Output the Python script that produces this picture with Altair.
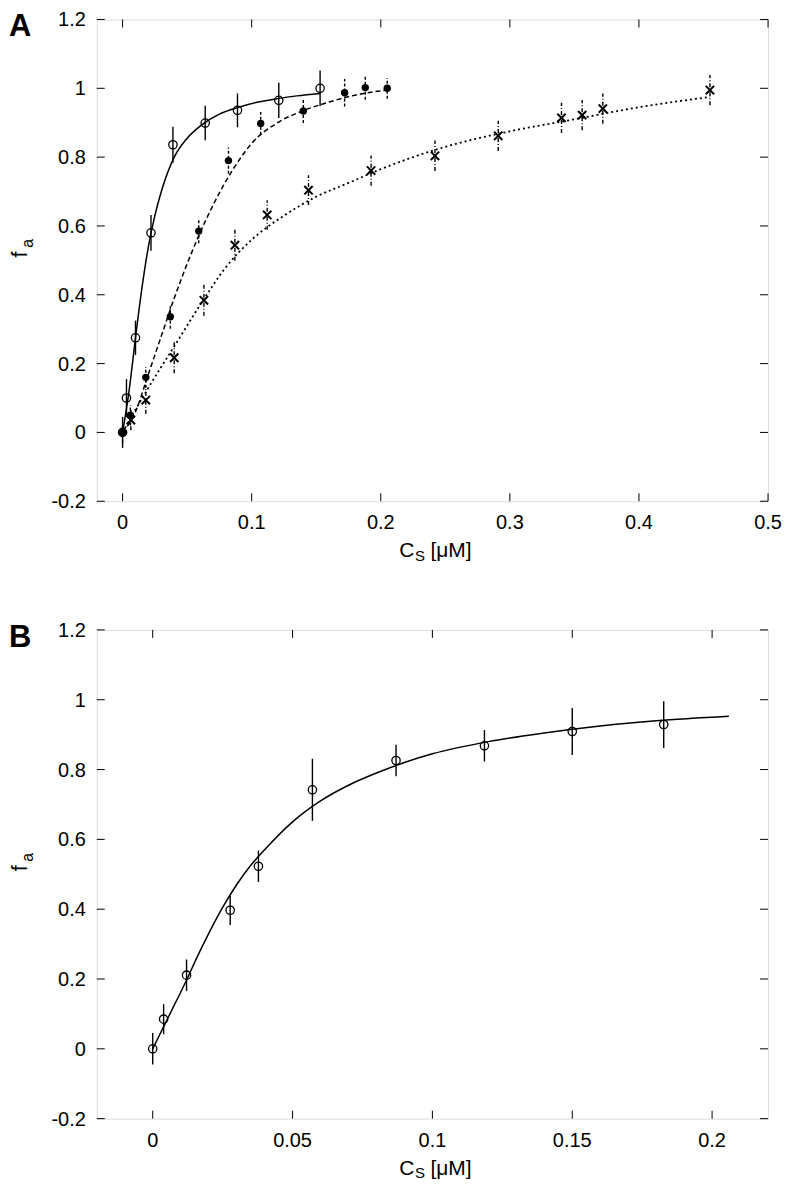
import altair as alt
import pandas as pd

FONT = "Liberation Sans"

# ---------------- Panel A data ----------------
a_open_x = [0.0, 0.003, 0.010, 0.022, 0.039, 0.064, 0.089, 0.121, 0.153]
a_open_y = [0.0, 0.100, 0.275, 0.580, 0.836, 0.899, 0.936, 0.965, 1.000]
a_open_err = [0.045, 0.055, 0.050, 0.052, 0.052, 0.050, 0.049, 0.051, 0.052]

a_fill_x = [0.0, 0.006, 0.018, 0.037, 0.059, 0.082, 0.107, 0.140, 0.172, 0.188, 0.205]
a_fill_y = [0.0, 0.050, 0.160, 0.336, 0.585, 0.790, 0.898, 0.934, 0.987, 1.002, 1.000]
a_fill_err = [0.030, 0.030, 0.030, 0.035, 0.035, 0.038, 0.033, 0.035, 0.040, 0.035, 0.030]

a_cross_x = [0.0064, 0.018, 0.040, 0.063, 0.087, 0.112, 0.144, 0.1925, 0.242, 0.291, 0.340, 0.356, 0.372, 0.455]
a_cross_y = [0.036, 0.094, 0.217, 0.384, 0.544, 0.632, 0.704, 0.761, 0.804, 0.862, 0.914, 0.922, 0.941, 0.995]
a_cross_err = [0.030, 0.040, 0.045, 0.045, 0.045, 0.043, 0.043, 0.044, 0.044, 0.044, 0.044, 0.044, 0.044, 0.044]

# fitted curves
a_solid_x = [0.0, 0.005, 0.010, 0.015, 0.020, 0.025, 0.030, 0.040, 0.050, 0.060, 0.075, 0.090, 0.105, 0.120, 0.135, 0.153]
a_solid_y = [0.0, 0.120, 0.275, 0.420, 0.540, 0.630, 0.700, 0.800, 0.855, 0.890, 0.925, 0.945, 0.960, 0.970, 0.978, 0.985]

a_dash_x = [0.0, 0.010, 0.020, 0.030, 0.040, 0.050, 0.060, 0.070, 0.080, 0.090, 0.100, 0.120, 0.140, 0.160, 0.180, 0.205]
a_dash_y = [0.0, 0.060, 0.170, 0.280, 0.390, 0.490, 0.580, 0.660, 0.730, 0.790, 0.840, 0.900, 0.935, 0.960, 0.980, 0.995]

a_dot_x = [0.0, 0.020, 0.040, 0.060, 0.080, 0.100, 0.125, 0.150, 0.175, 0.200, 0.250, 0.300, 0.350, 0.400, 0.455]
a_dot_y = [0.0, 0.130, 0.250, 0.370, 0.480, 0.560, 0.630, 0.685, 0.725, 0.765, 0.830, 0.875, 0.910, 0.945, 0.975]

a_xticks = [0.0, 0.1, 0.2, 0.3, 0.4, 0.5]
a_xlabels = ["0", "0.1", "0.2", "0.3", "0.4", "0.5"]

# ---------------- Panel B data ----------------
b_x = [0.0, 0.0039, 0.0121, 0.0277, 0.0378, 0.0571, 0.087, 0.1186, 0.150, 0.1827]
b_y = [0.0, 0.085, 0.211, 0.397, 0.523, 0.742, 0.826, 0.868, 0.909, 0.929]
b_err = [0.045, 0.043, 0.045, 0.042, 0.045, 0.089, 0.045, 0.045, 0.067, 0.067]

b_fit_x = [0.0, 0.004, 0.008, 0.012, 0.016, 0.020, 0.025, 0.030, 0.035, 0.040, 0.050, 0.060, 0.070, 0.080, 0.090, 0.100, 0.120, 0.140, 0.160, 0.180, 0.206]
b_fit_y = [0.0, 0.065, 0.130, 0.195, 0.265, 0.330, 0.405, 0.470, 0.525, 0.570, 0.650, 0.710, 0.755, 0.790, 0.820, 0.845, 0.880, 0.905, 0.925, 0.940, 0.953]

b_xticks = [0.0, 0.05, 0.1, 0.15, 0.2]
b_xlabels = ["0", "0.05", "0.1", "0.15", "0.2"]

yticks = [-0.2, 0.0, 0.2, 0.4, 0.6, 0.8, 1.0, 1.2]
ylabels = ["-0.2", "0", "0.2", "0.4", "0.6", "0.8", "1", "1.2"]

panel_letters = ["A", "B"]
x_title_parts = ["C", "S", "[μM]"]
y_title_parts = ["f", "a"]

CROSS = "M-1,-1L1,1M-1,1L1,-1"
TICK_FS = 20


def errdf(x, y, e):
    return pd.DataFrame({"x": x, "y": y,
                         "lo": [v - d for v, d in zip(y, e)],
                         "hi": [v + d for v, d in zip(y, e)]})


def txt(s):
    return alt.Chart(pd.DataFrame({"t": [s]}))


def panel(W, H, xdom, xticks, xlabels, letter, series, curves):
    xs = alt.Scale(domain=xdom, nice=False, zero=False)
    ys = alt.Scale(domain=[-0.2, 1.2], nice=False, zero=False)
    X = lambda f: alt.X(f, scale=xs, axis=None)
    Y = lambda f: alt.Y(f, scale=ys, axis=None)
    layers = []
    for (cx, cy, dash, sw) in curves:
        df = pd.DataFrame({"x": cx, "y": cy})
        mk = dict(color="black", strokeWidth=sw, interpolate="monotone")
        if dash:
            mk["strokeDash"] = dash
        layers.append(alt.Chart(df).mark_line(**mk).encode(
            x=X("x:Q"), y=Y("y:Q"), order="x:Q"))
    for (sx, sy, se, kind, edash) in series:
        df = errdf(sx, sy, se)
        rk = dict(color="black", strokeWidth=1.4)
        if edash:
            rk["strokeDash"] = edash
        layers.append(alt.Chart(df).mark_rule(**rk).encode(
            x=X("x:Q"), y=Y("lo:Q"), y2="hi:Q"))
        if kind == "open":
            pm = dict(shape="circle", filled=False, stroke="black", strokeWidth=1.3, size=70, opacity=1)
        elif kind == "fill":
            pm = dict(shape="circle", filled=True, color="black", size=55, opacity=1)
        else:
            pm = dict(shape=CROSS, filled=False, stroke="black", strokeWidth=2, size=70, opacity=1)
        layers.append(alt.Chart(df).mark_point(**pm).encode(x=X("x:Q"), y=Y("y:Q")))
    # inward ticks on all four sides
    dxt = pd.DataFrame({"v": xticks, "lab": xlabels})
    dyt = pd.DataFrame({"v": yticks, "lab": ylabels})
    for (ya, yb) in [(H, H - 8), (0, 8)]:
        layers.append(alt.Chart(dxt).mark_rule(color="black", strokeWidth=1).encode(
            x=X("v:Q"), y=alt.value(ya), y2=alt.value(yb)))
    for (xa, xb) in [(0, 8), (W, W - 8)]:
        layers.append(alt.Chart(dyt).mark_rule(color="black", strokeWidth=1).encode(
            y=Y("v:Q"), x=alt.value(xa), x2=alt.value(xb)))
    # tick labels
    layers.append(alt.Chart(dxt).mark_text(font=FONT, fontSize=TICK_FS, align="center",
                                           baseline="middle", color="black").encode(
        x=X("v:Q"), y=alt.value(H + 22), text="lab:N"))
    layers.append(alt.Chart(dyt).mark_text(font=FONT, fontSize=TICK_FS, align="right",
                                           baseline="middle", color="black", dx=-11, dy=1).encode(
        y=Y("v:Q"), x=alt.value(0), text="lab:N"))
    # panel letter
    layers.append(txt(letter).mark_text(font=FONT, fontSize=31, fontWeight="bold",
                                        align="left", baseline="alphabetic", color="black").encode(
        x=alt.value(-88), y=alt.value(17), text="t:N"))
    # x title C_S [μM]
    cx0 = W / 2 - 18
    layers.append(txt(x_title_parts[0]).mark_text(font=FONT, fontSize=21, align="right",
                                                  baseline="middle", color="black").encode(
        x=alt.value(cx0), y=alt.value(H + 50), text="t:N"))
    layers.append(txt(x_title_parts[1]).mark_text(font=FONT, fontSize=15, align="left",
                                                  baseline="middle", color="black").encode(
        x=alt.value(cx0 + 0.5), y=alt.value(H + 55), text="t:N"))
    layers.append(txt(x_title_parts[2]).mark_text(font=FONT, fontSize=21, align="left",
                                                  baseline="middle", color="black").encode(
        x=alt.value(cx0 + 16), y=alt.value(H + 50), text="t:N"))
    # y title f_a
    layers.append(txt(y_title_parts[0]).mark_text(font=FONT, fontSize=22, align="center",
                                                  baseline="middle", angle=270, color="black").encode(
        x=alt.value(-77), y=alt.value(H / 2 - 6), text="t:N"))
    layers.append(txt(y_title_parts[1]).mark_text(font=FONT, fontSize=16, align="center",
                                                  baseline="middle", angle=270, color="black").encode(
        x=alt.value(-69), y=alt.value(H / 2 - 17), text="t:N"))
    return alt.layer(*layers).properties(width=W, height=H)


W = 673
pA = panel(W, 483, [-0.02, 0.5], a_xticks, a_xlabels, panel_letters[0],
           series=[(a_open_x, a_open_y, a_open_err, "open", None),
                   (a_cross_x, a_cross_y, a_cross_err, "cross", [4, 2, 1, 2]),
                   (a_fill_x, a_fill_y, a_fill_err, "fill", [3, 2])],
           curves=[(a_solid_x, a_solid_y, None, 1.5),
                   (a_dash_x, a_dash_y, [5, 3], 1.5),
                   (a_dot_x, a_dot_y, [2, 3], 1.8)])
pB = panel(W, 490, [-0.02, 0.22], b_xticks, b_xlabels, panel_letters[1],
           series=[(b_x, b_y, b_err, "open", None)],
           curves=[(b_fit_x, b_fit_y, None, 1.5)])

chart = alt.vconcat(pA, pB, spacing=55).properties(
    padding={"left": 0, "top": 0, "right": 0, "bottom": 0}
).configure_view(stroke="black", strokeWidth=1.2).configure(background="white")

chart.save("out.html", embed_options={"renderer": "svg", "actions": False})
